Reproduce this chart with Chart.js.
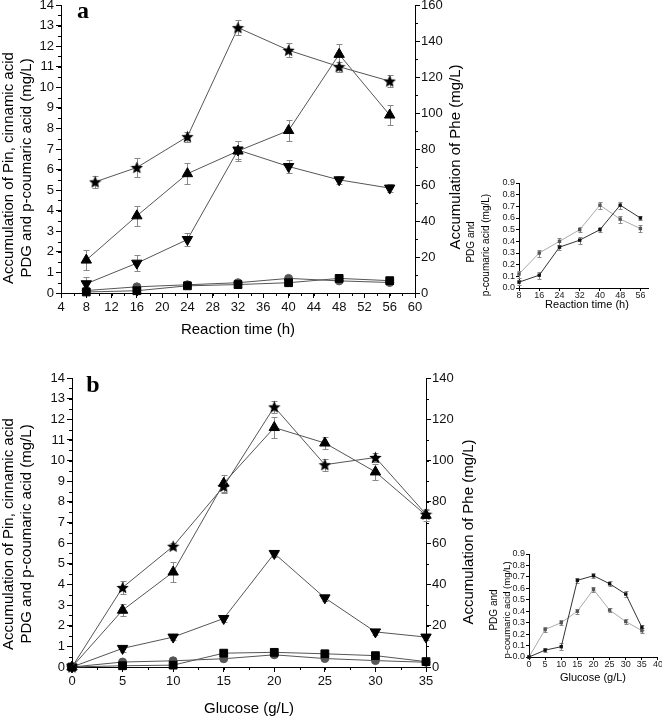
<!DOCTYPE html>
<html lang="en">
<head>
    <meta charset="UTF-8">
    <title>Pin, cinnamic acid, PDG, p-coumaric acid and Phe</title>
    <style>
        body { margin: 0; background: #fff; }
        #wrap { position: relative; width: 662px; height: 717px; overflow: hidden; }
        canvas { position: absolute; }
    </style>
    <script src="https://cdn.jsdelivr.net/npm/chart.js"></script>
</head>
<body>
<div id="wrap">
    <canvas id="mainA" width="480" height="350" style="left:0;top:-5px"></canvas>
    <canvas id="mainB" width="490" height="349" style="left:0;top:368px"></canvas>
    <canvas id="insetA" width="222" height="150" style="left:440px;top:168px"></canvas>
    <canvas id="insetB" width="192" height="150" style="left:470px;top:538px"></canvas>
</div>
<script>
    // ---- panel a : reaction time ----
    const timeA = [8, 16, 24, 32, 40, 48, 56];
    const starTimeA = [9.4, 16, 24, 32, 40, 48, 56];
    const starA = [5.4, 6.1, 7.6, 12.9, 11.8, 11.0, 10.3];
    const starAErr = [0.3, 0.45, 0.25, 0.35, 0.35, 0.25, 0.3];
    const upA = [1.6, 3.75, 5.8, 6.9, 7.9, 11.6, 8.65];
    const upAErr = [0.5, 0.5, 0.5, 0.5, 0.5, 0.5, 0.5];
    const downA = [0.45, 1.45, 2.6, 6.95, 6.15, 5.5, 5.1];
    const downAErr = [0.35, 0.4, 0.3, 0.45, 0.3, 0.2, 0.2];
    const circA = [0.12, 0.3, 0.4, 0.5, 0.71, 0.59, 0.51];
    const circAErr = [0.03, 0.03, 0.03, 0.02, 0.03, 0.03, 0.03];
    const sqA = [0.05, 0.11, 0.35, 0.41, 0.5, 0.71, 0.6];
    const sqAErr = [0.02, 0.03, 0.02, 0.03, 0.02, 0.03, 0.02];

    // ---- panel b : glucose ----
    const glucose = [0, 5, 10, 15, 20, 25, 30, 35];
    const starB = [0, 3.85, 5.85, 8.75, 12.6, 9.8, 10.15, 7.4];
    const starBErr = [0, 0.3, 0.15, 0.3, 0.3, 0.3, 0.2, 0.2];
    const upB = [0, 2.75, 4.6, 8.9, 11.6, 10.85, 9.45, 7.35];
    const upBErr = [0, 0.3, 0.5, 0.4, 0.5, 0.3, 0.4, 0.3];
    const downB = [0, 0.9, 1.45, 2.35, 5.5, 3.35, 1.7, 1.45];
    const downBErr = [0, 0.15, 0.15, 0.15, 0.15, 0.15, 0.15, 0.15];
    const sqB = [0, 0.06, 0.09, 0.67, 0.71, 0.64, 0.55, 0.26];
    const sqBErr = [0, 0.02, 0.03, 0.02, 0.02, 0.02, 0.03, 0.02];
    const circB = [0, 0.24, 0.30, 0.40, 0.59, 0.41, 0.31, 0.23];
    const circBErr = [0, 0.02, 0.02, 0.02, 0.02, 0.02, 0.02, 0.02];

    // inset tick labels
    const insetYTicks = [0, 0.1, 0.2, 0.3, 0.4, 0.5, 0.6, 0.7, 0.8, 0.9];
    const insetGlucoseTicks = [0, 5, 10, 15, 20, 25, 30, 35, 40];

    Chart.defaults.font.family = '"Liberation Sans", Arial, sans-serif';
    Chart.defaults.color = '#111';

    function pts(xs, ys) { return xs.map((x, i) => ({ x: x, y: ys[i] })); }

    function starImg(size, color) {
        const c = document.createElement('canvas');
        c.width = c.height = size;
        const g = c.getContext('2d');
        const R = size / 2, r = R * 0.45;
        g.fillStyle = color;
        g.beginPath();
        for (let k = 0; k < 10; k++) {
            const a = -Math.PI / 2 + k * Math.PI / 5;
            const rr = k % 2 ? r : R;
            g.lineTo(R + rr * Math.cos(a), R + rr * Math.sin(a) + 0.5);
        }
        g.closePath();
        g.fill();
        return c;
    }
    const star = starImg(13, '#000');

    // error bars drawn from dataset.errors through the y scale
    const errorBars = {
        id: 'errorBars',
        beforeDatasetsDraw(chart) {
            const ctx = chart.ctx;
            chart.data.datasets.forEach((ds, i) => {
                if (!ds.errors) return;
                const meta = chart.getDatasetMeta(i);
                const ys = chart.scales[meta.yAxisID];
                ctx.save();
                ctx.strokeStyle = ds.errorColor || '#888';
                ctx.lineWidth = 1;
                meta.data.forEach((pt, j) => {
                    const e = ds.errors[j];
                    if (!e) return;
                    const v = ds.data[j].y;
                    const y1 = Math.round(ys.getPixelForValue(v + e)) + 0.5;
                    const y2 = Math.round(ys.getPixelForValue(v - e)) + 0.5;
                    const x = Math.round(pt.x) + 0.5, w = ds.capW || 3;
                    ctx.beginPath();
                    ctx.moveTo(x, y1); ctx.lineTo(x, y2);
                    ctx.moveTo(x - w, y1); ctx.lineTo(x + w, y1);
                    ctx.moveTo(x - w, y2); ctx.lineTo(x + w, y2);
                    ctx.stroke();
                });
                ctx.restore();
            });
        }
    };

    // short unlabeled ticks between the labeled ones
    const minorTicks = {
        id: 'minorTicks',
        afterDraw(chart, args, opts) {
            const ctx = chart.ctx;
            const len = opts.len || 3;
            ctx.save();
            ctx.strokeStyle = '#000';
            ctx.lineWidth = 1;
            Object.entries(opts.steps || {}).forEach(([id, step]) => {
                const s = chart.scales[id];
                ctx.beginPath();
                for (let v = s.min; v <= s.max + 1e-9; v += step) {
                    const p = Math.round(s.getPixelForValue(v)) + 0.5;
                    if (s.isHorizontal()) { ctx.moveTo(p, s.top); ctx.lineTo(p, s.top + len); }
                    else if (s.position === 'left') { ctx.moveTo(s.right, p); ctx.lineTo(s.right - len, p); }
                    else { ctx.moveTo(s.left, p); ctx.lineTo(s.left + len, p); }
                }
                ctx.stroke();
            });
            ctx.restore();
        }
    };

    // axis titles and panel letters, placed in page coordinates
    const freeText = {
        id: 'freeText',
        afterDraw(chart, args, opts) {
            const ctx = chart.ctx;
            (opts.items || []).forEach(t => {
                ctx.save();
                ctx.translate(t.x - opts.ox, t.y - opts.oy);
                ctx.rotate((t.rot || 0) * Math.PI / 180);
                ctx.font = t.font;
                ctx.fillStyle = '#000';
                ctx.textAlign = 'center';
                ctx.textBaseline = 'middle';
                ctx.fillText(t.text, 0, 0);
                ctx.restore();
            });
        }
    };
    Chart.register(errorBars, minorTicks, freeText);

    function series(data, errors, style, extra) {
        return Object.assign({
            data: data,
            errors: errors,
            borderColor: '#555',
            borderWidth: 1,
            pointStyle: style,
            pointBackgroundColor: '#000',
            pointBorderColor: '#000',
            pointBorderWidth: 1,
            pointRadius: 5,
            tension: 0,
            clip: false
        }, extra || {});
    }

    const axisGrid = { drawOnChartArea: false, drawTicks: true, tickLength: 5, color: '#000' };
    const axisBorder = { display: true, color: '#000', width: 1 };
    const T15 = '15px "Liberation Sans", Arial, sans-serif';
    const T10 = '10px "Liberation Sans", Arial, sans-serif';

    function mainOptions(cfg) {
        return {
            responsive: false,
            animation: false,
            devicePixelRatio: 1,
            layout: { padding: { top: 10, left: 0, right: 0, bottom: 0 } },
            plugins: {
                legend: { display: false },
                tooltip: { enabled: false },
                minorTicks: { steps: cfg.minor, len: 3 },
                freeText: { ox: cfg.ox, oy: cfg.oy, items: cfg.texts }
            },
            scales: {
                x: {
                    type: 'linear', min: cfg.xMin, max: cfg.xMax,
                    afterFit: s => { s.height = cfg.xH; },
                    grid: axisGrid, border: axisBorder,
                    ticks: { stepSize: cfg.xStep, font: { size: 13 }, padding: 2, maxRotation: 0 }
                },
                y: {
                    position: 'left', min: 0, max: 14,
                    afterFit: s => { s.width = cfg.yW; },
                    grid: axisGrid, border: axisBorder,
                    ticks: { stepSize: 1, font: { size: 13 }, padding: 2 }
                },
                y2: {
                    position: 'right', min: 0, max: cfg.y2Max,
                    afterFit: s => { s.width = cfg.y2W; },
                    grid: axisGrid, border: axisBorder,
                    ticks: { stepSize: 20, font: { size: 13 }, padding: 1 }
                }
            }
        };
    }

    new Chart(document.getElementById('mainA'), {
        type: 'line',
        data: {
            datasets: [
                series(pts(starTimeA, starA), starAErr, star),
                series(pts(timeA, upA), upAErr, 'triangle', { pointRadius: 6 }),
                series(pts(timeA, downA), downAErr, 'triangle', { pointRadius: 6, pointRotation: 180 }),
                series(pts(timeA, sqA), sqAErr, 'rect', { pointRadius: 5.5 }),
                series(pts(timeA, circA), circAErr, 'circle', { pointRadius: 4, pointBackgroundColor: '#555', pointBorderColor: '#555' })
            ]
        },
        options: mainOptions({
            xMin: 4, xMax: 60, xStep: 4, xH: 52, yW: 61, y2W: 65, y2Max: 160,
            minor: { x: 2, y: 0.5, y2: 10 }, ox: 0, oy: -5,
            texts: [
                { text: 'Accumulation of Pin, cinnamic acid', x: 9, y: 168, rot: -90, font: T15 },
                { text: 'PDG and p-coumaric acid (mg/L)', x: 27, y: 168, rot: -90, font: T15 },
                { text: 'Accumulation of Phe (mg/L)', x: 456, y: 157, rot: -90, font: T15 },
                { text: 'Reaction time (h)', x: 238, y: 330, font: T15 },
                { text: 'a', x: 83, y: 12, font: 'bold 24px "Liberation Serif", serif' }
            ]
        })
    });

    new Chart(document.getElementById('mainB'), {
        type: 'line',
        data: {
            datasets: [
                series(pts(glucose, starB), starBErr, star),
                series(pts(glucose, upB), upBErr, 'triangle', { pointRadius: 6 }),
                series(pts(glucose, downB), downBErr, 'triangle', { pointRadius: 6, pointRotation: 180 }),
                series(pts(glucose, sqB), sqBErr, 'rect', { pointRadius: 5.5 }),
                series(pts(glucose, circB), circBErr, 'circle', { pointRadius: 4, pointBackgroundColor: '#555', pointBorderColor: '#555' })
            ]
        },
        options: mainOptions({
            xMin: 0, xMax: 35, xStep: 5, xH: 50, yW: 72, y2W: 64, y2Max: 140,
            minor: { x: 2.5, y: 0.5, y2: 10 }, ox: 0, oy: 368,
            texts: [
                { text: 'Accumulation of Pin, cinnamic acid', x: 9, y: 534, rot: -90, font: T15 },
                { text: 'PDG and p-coumaric acid (mg/L)', x: 27, y: 534, rot: -90, font: T15 },
                { text: 'Accumulation of Phe (mg/L)', x: 469, y: 532, rot: -90, font: T15 },
                { text: 'Glucose (g/L)', x: 249, y: 709, font: T15 },
                { text: 'b', x: 93, y: 386, font: 'bold 24px "Liberation Serif", serif' }
            ]
        })
    });

    function insetOptions(cfg) {
        const g = { drawOnChartArea: false, drawTicks: true, tickLength: 3, color: '#000' };
        return {
            responsive: false,
            animation: false,
            devicePixelRatio: 1,
            layout: { padding: { top: cfg.top, left: 0, right: cfg.right, bottom: 0 } },
            plugins: {
                legend: { display: false },
                tooltip: { enabled: false },
                freeText: { ox: cfg.ox, oy: cfg.oy, items: cfg.texts }
            },
            scales: {
                x: {
                    type: 'linear', min: cfg.xMin, max: cfg.xMax,
                    afterFit: s => { s.height = cfg.xH; },
                    afterBuildTicks: s => { s.ticks = cfg.xTicks.map(v => ({ value: v })); },
                    grid: g, border: axisBorder,
                    ticks: { font: { size: 9 }, padding: -1, maxRotation: 0, autoSkip: false, color: '#222' }
                },
                y: {
                    min: 0, max: 0.9,
                    afterFit: s => { s.width = cfg.yW; },
                    afterBuildTicks: s => { s.ticks = insetYTicks.map(v => ({ value: v })); },
                    grid: g, border: axisBorder,
                    ticks: { font: { size: 9 }, padding: 1, autoSkip: false, color: '#222',
                        callback: v => v.toFixed(1) }
                }
            }
        };
    }

    function insetSeries(data, errors, dark) {
        return {
            data: data,
            errors: errors,
            errorColor: '#888',
            capW: 2,
            borderColor: dark ? '#333' : '#aaa',
            borderWidth: 1,
            pointStyle: 'rect',
            pointRadius: 2.4,
            pointBackgroundColor: dark ? '#111' : '#555',
            pointBorderColor: dark ? '#111' : '#555',
            pointBorderWidth: 0,
            tension: 0,
            clip: false
        };
    }

    new Chart(document.getElementById('insetA'), {
        type: 'line',
        data: { datasets: [insetSeries(pts(timeA, sqA), sqAErr, true), insetSeries(pts(timeA, circA), circAErr, false)] },
        options: insetOptions({
            top: 15, right: 14, xH: 30, yW: 79, xMin: 8, xMax: 59, xTicks: timeA,
            ox: 440, oy: 168,
            texts: [
                { text: 'PDG and', x: 471, y: 242, rot: -90, font: T10 },
                { text: 'p-coumaric acid (mg/L)', x: 486, y: 245, rot: -90, font: T10 },
                { text: 'Reaction time (h)', x: 587, y: 305, font: '11px "Liberation Sans", Arial, sans-serif' }
            ]
        })
    });

    new Chart(document.getElementById('insetB'), {
        type: 'line',
        data: { datasets: [insetSeries(pts(glucose, sqB), sqBErr, true), insetSeries(pts(glucose, circB), circBErr, false)] },
        options: insetOptions({
            top: 16, right: 4, xH: 31, yW: 59, xMin: 0, xMax: 40, xTicks: insetGlucoseTicks,
            ox: 470, oy: 538,
            texts: [
                { text: 'PDG and', x: 494, y: 610, rot: -90, font: T10 },
                { text: 'p-coumaric acid (mg/L)', x: 507, y: 610, rot: -90, font: '9.5px "Liberation Sans", Arial, sans-serif' },
                { text: 'Glucose (g/L)', x: 593, y: 678, font: '11px "Liberation Sans", Arial, sans-serif' }
            ]
        })
    });
</script>
</body>
</html>
